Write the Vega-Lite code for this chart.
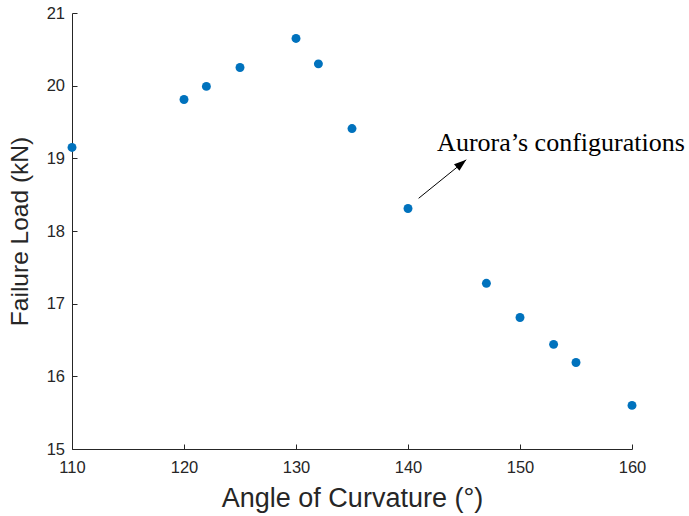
{
  "$schema": "https://vega.github.io/schema/vega-lite/v6.json",
  "width": 560,
  "height": 436,
  "autosize": "none",
  "padding": {"left": 72, "top": 13, "right": 57, "bottom": 67},
  "background": "white",
  "config": {
    "view": {"stroke": null},
    "axis": {
      "grid": false,
      "ticks": true,
      "domainColor": "#262626",
      "tickColor": "#262626",
      "labelColor": "#262626",
      "titleColor": "#262626",
      "labelFont": "Liberation Sans",
      "titleFont": "Liberation Sans",
      "labelFontSize": 16.5,
      "titleFontWeight": "normal",
      "domainWidth": 1,
      "tickWidth": 1
    }
  },
  "datasets": {
    "pts": [
      {"angle": 110, "load": 19.15},
      {"angle": 120, "load": 19.81},
      {"angle": 122, "load": 19.99},
      {"angle": 125, "load": 20.25},
      {"angle": 130, "load": 20.65},
      {"angle": 132, "load": 20.30},
      {"angle": 135, "load": 19.41},
      {"angle": 140, "load": 18.31},
      {"angle": 147, "load": 17.28},
      {"angle": 150, "load": 16.81},
      {"angle": 153, "load": 16.44},
      {"angle": 155, "load": 16.19},
      {"angle": 160, "load": 15.60}
    ],
    "arrow": [
      {"x": 140.95, "y": 18.45, "x2": 145.2, "y2": 18.98}
    ],
    "label": [
      {"x": 142.6, "y": 19.1, "text": "Aurora’s configurations"}
    ]
  },
  "layer": [
    {
      "data": {"name": "pts"},
      "mark": {"type": "point", "filled": true, "opacity": 1, "color": "#0072BD", "size": 80},
      "encoding": {
        "x": {
          "field": "angle", "type": "quantitative",
          "scale": {"domain": [110, 160], "nice": false, "zero": false},
          "axis": {"values": [110, 120, 130, 140, 150, 160], "format": "d", "title": "Angle of Curvature (°)", "titleFontSize": 27, "tickSize": -5, "labelPadding": 15, "titlePadding": 10, "labelFlush": false}
        },
        "y": {
          "field": "load", "type": "quantitative",
          "scale": {"domain": [15, 21], "nice": false, "zero": false},
          "axis": {"values": [15, 16, 17, 18, 19, 20, 21], "format": "d", "title": "Failure Load (kN)", "titleFontSize": 24.5, "tickSize": -5, "labelPadding": 12.5, "titlePadding": 14, "labelFlush": false}
        }
      }
    },
    {
      "data": {"name": "arrow"},
      "mark": {"type": "rule", "color": "black", "strokeWidth": 1},
      "encoding": {
        "x": {"field": "x", "type": "quantitative"},
        "y": {"field": "y", "type": "quantitative"},
        "x2": {"field": "x2"},
        "y2": {"field": "y2"}
      }
    },
    {
      "data": {"name": "arrow"},
      "mark": {"type": "point", "filled": true, "opacity": 1, "color": "black", "shape": "M0,0L-0.35,1L0.35,1Z", "size": 600, "angle": 51},
      "encoding": {
        "x": {"field": "x2", "type": "quantitative"},
        "y": {"field": "y2", "type": "quantitative"}
      }
    },
    {
      "data": {"name": "label"},
      "mark": {"type": "text", "font": "Liberation Serif", "fontSize": 26, "color": "black", "align": "left", "baseline": "alphabetic"},
      "encoding": {
        "x": {"field": "x", "type": "quantitative"},
        "y": {"field": "y", "type": "quantitative"},
        "text": {"field": "text"}
      }
    }
  ]
}
